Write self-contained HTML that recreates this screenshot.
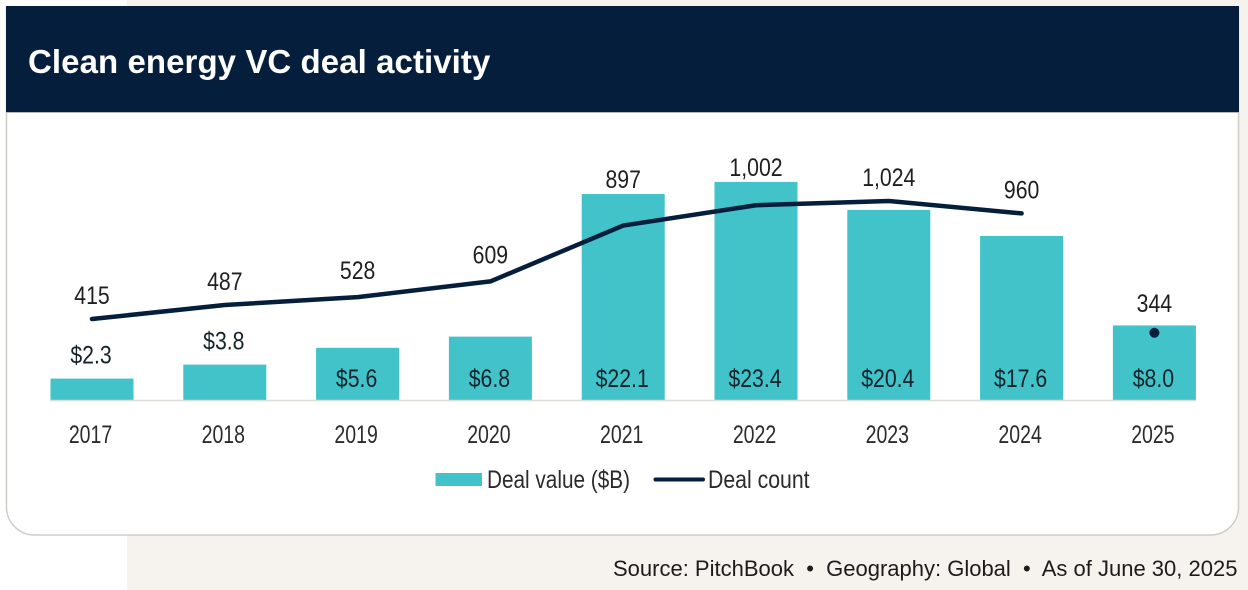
<!DOCTYPE html>
<html lang="en">
<head>
<meta charset="utf-8">
<title>Clean energy VC deal activity</title>
<style>
html,body{margin:0;padding:0;width:1248px;height:590px;overflow:hidden;background:#fff}
svg{display:block}
text{font-family:"Liberation Sans",sans-serif}
</style>
</head>
<body>
<svg id="chart" xmlns="http://www.w3.org/2000/svg" width="1248" height="590" viewBox="0 0 1248 590">
  <rect x="127" y="0" width="1121" height="590" fill="#f6f3ee"/>
  <path d="M6.5 7H1238.5V507a28 28 0 0 1-28 28H34.5a28 28 0 0 1-28-28Z" fill="#fff" stroke="#cfcdc8" stroke-width="1.5"/>
  <rect x="6" y="6" width="1233" height="106" fill="#041e3c"/>
  <rect x="6" y="112" width="1233" height="1" fill="#b8b8b6"/>
  <text x="28" y="73" font-size="33" font-weight="700" letter-spacing="0.07" fill="#fff">Clean energy VC deal activity</text>
  <g id="plot"></g>
  <g>
    <g>
      <rect x="435.5" y="473" width="46.5" height="13" fill="#42c3ca"/>
      <text transform="translate(487 488) scale(0.83 1)" font-size="25" fill="#2b2b2b">Deal value ($B)</text>
    </g>
    <g>
      <line x1="655.5" y1="479.5" x2="703" y2="479.5" stroke="#041e3c" stroke-width="4" stroke-linecap="round"/>
      <text transform="translate(708 488) scale(0.85 1)" font-size="25" fill="#2b2b2b">Deal count</text>
    </g>
  </g>
  <text x="613" y="576" font-size="22" fill="#1c1c1c" xml:space="preserve">Source: PitchBook  •  Geography: Global  •  As of June 30, 2025</text>
</svg>
<script>
const categories = ['2017','2018','2019','2020','2021','2022','2023','2024','2025'];
const dealValues = [2.3,3.8,5.6,6.8,22.1,23.4,20.4,17.6,8.0];
const dealCounts = [415,487,528,609,897,1002,1024,960,344];
const connectedCounts = 8;

const NS = 'http://www.w3.org/2000/svg';
const plot = document.getElementById('plot');
const baseline = 400;
const xScale = i => 92 + i * 132.8;
const yValue = v => baseline - v * 9.32;
const yCount = c => 319 - (c - 415) * 0.1938;

function make(tag, attrs, parent) {
  const el = document.createElementNS(NS, tag);
  for (const k in attrs) el.setAttribute(k, attrs[k]);
  parent.appendChild(el);
  return el;
}
function label(str, x, y, color, sx, parent) {
  const el = make('text', {
    transform: 'translate(' + x + ' ' + y + ') scale(' + sx + ' 1)',
    'text-anchor': 'middle',
    'font-size': 25,
    fill: color
  }, parent);
  el.textContent = str;
  return el;
}

categories.forEach((cat, i) => {
  const top = yValue(dealValues[i]);
  const bar = make('rect', { x: xScale(i) - 41.5, y: top, width: 83, height: baseline - top, fill: '#42c3ca' }, plot);
  
  
});

const axis = make('line', { x1: 50, x2: 1196, y1: baseline + 0.5, y2: baseline + 0.5, stroke: '#dddbd6', 'stroke-width': 1.5 }, plot);



const linePoints = dealCounts.slice(0, connectedCounts).map((c, i) => xScale(i) + ',' + yCount(c)).join(' ');
const countLine = make('polyline', { points: linePoints, fill: 'none', stroke: '#041e3c', 'stroke-width': 4.5, 'stroke-linecap': 'round', 'stroke-linejoin': 'round' }, plot);



const lastIndex = dealCounts.length - 1;
const dot = make('circle', { cx: xScale(lastIndex), cy: yCount(dealCounts[lastIndex]), r: 5, fill: '#041e3c' }, plot);



categories.forEach((cat, i) => {
  const yearLabel = label(cat, xScale(i) - 1.5, 443, '#2b2b2b', 0.78, plot);
  
  

  const v = dealValues[i];
  const valueY = v < 5 ? yValue(v) - 15 : 387;
  const valueLabel = label('$' + v.toFixed(1), xScale(i) - 1, valueY, '#14232a', 0.85, plot);
  
  

  const c = dealCounts[i];
  const lineY = yCount(c);
  const barTop = yValue(v);
  const nextRise = i < lastIndex - 1 ? dealCounts[i + 1] - c : 0;
  let countY = lineY - 15;
  if (i === lastIndex) countY = lineY - 21;
  else if (barTop < lineY) countY = barTop - 6;
  else if (nextRise > 75) countY = lineY - 18;
  const countLabel = label(c.toLocaleString('en-US'), xScale(i), countY, '#1f1f1f', 0.85, plot);
  
  
});
</script>
</body>
</html>
